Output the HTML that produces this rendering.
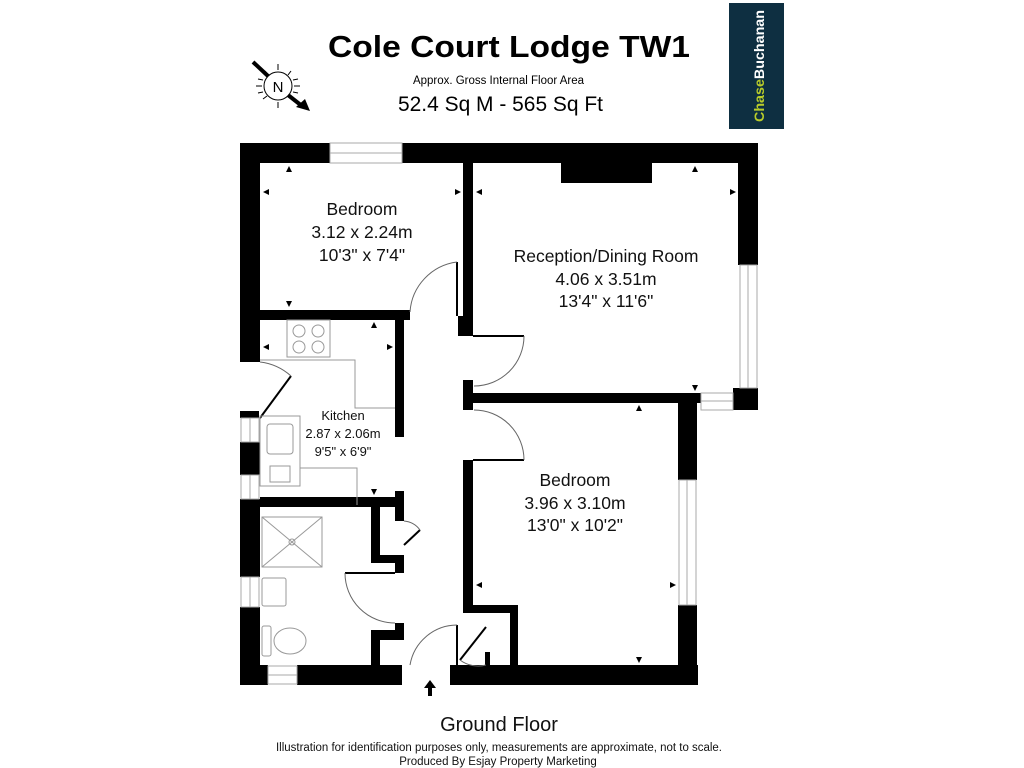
<!DOCTYPE html>
<html><head><meta charset="utf-8"><style>
html,body{margin:0;padding:0;background:#fff;}
svg{display:block;font-family:"Liberation Sans",Arial,sans-serif;}
</style></head><body>
<svg width="1024" height="768" viewBox="0 0 1024 768" xmlns="http://www.w3.org/2000/svg">
<rect width="1024" height="768" fill="#fff"/>
<!-- header -->
<text x="328" y="57" font-size="31" font-weight="bold" textLength="362" lengthAdjust="spacingAndGlyphs">Cole Court Lodge TW1</text>
<text x="413" y="84" font-size="11.5" textLength="171" lengthAdjust="spacingAndGlyphs">Approx. Gross Internal Floor Area</text>
<text x="398" y="111" font-size="21" textLength="205" lengthAdjust="spacingAndGlyphs">52.4 Sq M - 565 Sq Ft</text>
<rect x="729" y="3" width="55" height="126" fill="#0e2f41"/>
<text transform="translate(764,122) rotate(-90)" font-size="14" font-weight="bold" textLength="112" lengthAdjust="spacingAndGlyphs"><tspan fill="#b9cc2a">Chase</tspan><tspan fill="#fff">Buchanan</tspan></text>
<!-- compass -->
<g stroke="#000" fill="none" stroke-width="1">
<circle cx="278" cy="86" r="14"/>
<line x1="278" y1="64" x2="278" y2="70"/><line x1="278" y1="102" x2="278" y2="108"/>
<line x1="256" y1="86" x2="262" y2="86"/><line x1="294" y1="86" x2="300" y2="86"/>
<line x1="265" y1="71" x2="268" y2="75"/><line x1="291" y1="71" x2="288" y2="75"/>
<line x1="263" y1="99" x2="267" y2="96"/><line x1="293" y1="99" x2="289" y2="96"/>
<line x1="258" y1="79" x2="263" y2="80"/><line x1="298" y1="79" x2="293" y2="80"/>
<line x1="258" y1="93" x2="263" y2="92"/><line x1="298" y1="93" x2="293" y2="92"/>
</g>
<line x1="253" y1="62" x2="268" y2="76" stroke="#000" stroke-width="4"/>
<line x1="288" y1="95" x2="302" y2="106" stroke="#000" stroke-width="4"/>
<polygon points="310,111 296,107 305,99" fill="#000"/>
<text x="278" y="92" font-size="15" text-anchor="middle">N</text>

<!-- walls -->
<g fill="#000">
<rect x="240" y="143" width="90" height="20"/>
<rect x="402" y="143" width="356" height="20"/>
<rect x="240" y="143" width="20" height="219"/>
<rect x="240" y="411" width="19" height="7"/>
<rect x="240" y="442" width="20" height="33"/>
<rect x="240" y="499" width="20" height="78"/>
<rect x="240" y="607" width="20" height="78"/>
<rect x="240" y="665" width="28" height="20"/>
<rect x="297" y="665" width="105" height="20"/>
<rect x="450" y="665" width="248" height="20"/>
<rect x="463" y="163" width="10" height="173"/>
<rect x="458" y="316" width="6" height="20"/>
<rect x="260" y="310" width="150" height="10"/>
<rect x="561" y="163" width="91" height="20"/>
<rect x="738" y="143" width="20" height="122"/>
<rect x="733" y="388" width="25" height="22"/>
<rect x="463" y="380" width="10" height="30"/>
<rect x="463" y="393" width="238" height="10"/>
<rect x="678" y="393" width="19" height="87"/>
<rect x="678" y="605" width="19" height="80"/>
<rect x="463" y="460" width="10" height="152"/>
<rect x="463" y="605" width="55" height="8"/>
<rect x="510" y="605" width="8" height="60"/>
<rect x="485" y="652" width="5" height="13"/>
<rect x="395" y="320" width="9" height="117"/>
<rect x="260" y="497" width="144" height="10"/>
<rect x="395" y="491" width="9" height="30"/>
<rect x="371" y="507" width="9" height="55"/>
<rect x="371" y="555" width="33" height="8"/>
<rect x="395" y="555" width="9" height="18"/>
<rect x="395" y="623" width="9" height="17"/>
<rect x="371" y="630" width="33" height="10"/>
<rect x="371" y="630" width="9" height="40"/>
</g>
<!-- windows -->
<g fill="none" stroke="#aaa" stroke-width="1">
<rect x="330" y="143" width="72" height="20"/><line x1="330" y1="153" x2="402" y2="153"/>
<rect x="740" y="265" width="17" height="123"/><line x1="748" y1="265" x2="748" y2="388"/>
<rect x="701" y="393" width="32" height="17"/><line x1="701" y1="401" x2="733" y2="401"/>
<rect x="679" y="480" width="17" height="125"/><line x1="687" y1="480" x2="687" y2="605"/>
<rect x="241" y="418" width="18" height="24"/><line x1="250" y1="418" x2="250" y2="442"/>
<rect x="241" y="475" width="18" height="24"/><line x1="250" y1="475" x2="250" y2="499"/>
<rect x="241" y="577" width="18" height="30"/><line x1="250" y1="577" x2="250" y2="607"/>
<rect x="268" y="666" width="29" height="18"/><line x1="268" y1="675" x2="297" y2="675"/>
</g>
<!-- doors -->
<g fill="none" stroke="#000" stroke-width="1">
<line x1="457" y1="262" x2="457" y2="316" stroke-width="2"/>
<path d="M457 262 A54 54 0 0 0 410 312" stroke="#666"/>
<line x1="473" y1="336" x2="524" y2="336" stroke-width="2"/>
<path d="M524 336 A50 50 0 0 1 474 386" stroke="#666"/>
<line x1="473" y1="460" x2="524" y2="460" stroke-width="2"/>
<path d="M524 460 A50 50 0 0 0 474 410" stroke="#666"/>
<line x1="260" y1="418" x2="291" y2="376" stroke-width="2"/>
<path d="M260 362 A56 56 0 0 1 291 376" stroke="#666"/>
<line x1="345" y1="573" x2="395" y2="573" stroke-width="2"/>
<path d="M345 573 A50 50 0 0 0 395 623" stroke="#666"/>
<line x1="404" y1="545" x2="420" y2="530" stroke-width="2"/>
<path d="M404 521 A22 22 0 0 1 420 530" stroke="#666"/>
<line x1="457" y1="625" x2="457" y2="665" stroke-width="2"/>
<path d="M457 625 A48 48 0 0 0 410 665" stroke="#666"/>
<line x1="460" y1="660" x2="486" y2="627" stroke-width="2"/>
<path d="M460 660 A30 30 0 0 0 486 665" stroke="#666"/>
</g>
<!-- fixtures -->
<g fill="none" stroke="#999" stroke-width="1">
<rect x="287" y="320" width="43" height="37"/>
<circle cx="299" cy="331" r="6"/><circle cx="318" cy="331" r="6"/>
<circle cx="299" cy="347" r="6"/><circle cx="318" cy="347" r="6"/>
<polyline points="260,360 355,360 355,408 395,408"/>
<rect x="260" y="416" width="40" height="70"/>
<rect x="267" y="424" width="26" height="30" rx="3"/>
<rect x="270" y="466" width="20" height="16"/>
<polyline points="300,468 357,468 357,505"/>
<rect x="262" y="517" width="60" height="50"/>
<line x1="262" y1="517" x2="322" y2="567"/><line x1="322" y1="517" x2="262" y2="567"/>
<circle cx="292" cy="542" r="3"/>
<rect x="262" y="578" width="24" height="28" rx="2"/>
<rect x="262" y="626" width="9" height="30" rx="2"/>
<ellipse cx="290" cy="641" rx="16" ry="13"/>
</g>
<polygon points="430,680 424,688 428,688 428,696 432,696 432,688 436,688" fill="#000"/>
<g fill="#000">
<polygon points="289,166 286,172 292,172"/><polygon points="289,307 286,301 292,301"/>
<polygon points="263,192 269,189 269,195"/><polygon points="461,192 455,189 455,195"/>
<polygon points="476,192 482,189 482,195"/><polygon points="736,192 730,189 730,195"/>
<polygon points="695,166 692,172 698,172"/><polygon points="695,391 692,385 698,385"/>
<polygon points="374,322 371,328 377,328"/><polygon points="374,495 371,489 377,489"/>
<polygon points="263,347 269,344 269,350"/><polygon points="393,347 387,344 387,350"/>
<polygon points="639,405 636,411 642,411"/><polygon points="639,663 636,657 642,657"/>
<polygon points="476,585 482,582 482,588"/><polygon points="676,585 670,582 670,588"/>
</g>
<!-- labels -->
<g text-anchor="middle" fill="#111">
<text x="362" y="215" font-size="17.5">Bedroom</text>
<text x="362" y="238" font-size="17.5">3.12 x 2.24m</text>
<text x="362" y="261" font-size="17.5">10'3" x 7'4"</text>
<text x="606" y="262" font-size="17.5">Reception/Dining Room</text>
<text x="606" y="285" font-size="17.5">4.06 x 3.51m</text>
<text x="606" y="307" font-size="17.5">13'4" x 11'6"</text>
<text x="343" y="420" font-size="13">Kitchen</text>
<text x="343" y="438" font-size="13">2.87 x 2.06m</text>
<text x="343" y="456" font-size="13">9'5" x 6'9"</text>
<text x="575" y="486" font-size="17.5">Bedroom</text>
<text x="575" y="509" font-size="17.5">3.96 x 3.10m</text>
<text x="575" y="531" font-size="17.5">13'0" x 10'2"</text>
<text x="499" y="731" font-size="20">Ground Floor</text>
</g>
<text x="276" y="751" font-size="11.5" textLength="446" lengthAdjust="spacingAndGlyphs" fill="#111">Illustration for identification purposes only, measurements are approximate, not to scale.</text>
<text x="498" y="765" font-size="11.5" text-anchor="middle" fill="#111">Produced By Esjay Property Marketing</text>
</svg>
</body></html>
